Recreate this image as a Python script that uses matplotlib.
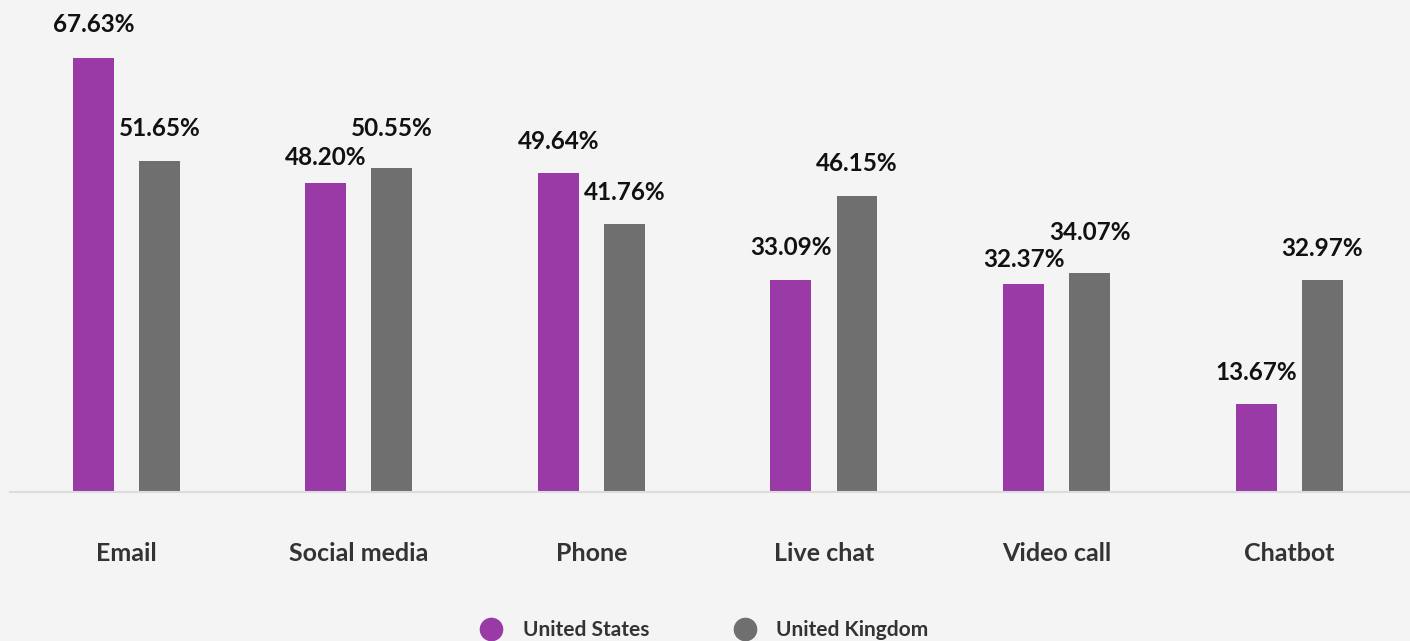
import matplotlib.pyplot as plt
from matplotlib.lines import Line2D
import numpy as np

plt.rcParams['font.family'] = ['Lato', 'DejaVu Sans']

categories = ['Email', 'Social media', 'Phone', 'Live chat', 'Video call', 'Chatbot']
us_values = [67.63, 48.20, 49.64, 33.09, 32.37, 13.67]
uk_values = [51.65, 50.55, 41.76, 46.15, 34.07, 32.97]

purple = '#993aa6'
grey = '#6f6f6f'
bg = '#f4f4f4'

fig = plt.figure(figsize=(14.1, 6.41), dpi=100, facecolor=bg)
ax = fig.add_axes([10 / 1410, 149 / 641, 1400 / 1410, 492 / 641])
ax.set_facecolor(bg)

x = np.arange(len(categories))
w = 0.176
off = 0.142
us_bars = ax.bar(x - off, us_values, w, color=purple, zorder=2)
uk_bars = ax.bar(x + off, uk_values, w, color=grey, zorder=2)

ax.set_xlim(-0.5, 5.52)
ax.set_ylim(0, 76.67)

# value labels, a few nudged so neighbours don't collide
us_shift = {0: 2, 1: -7, 4: -7}
uk_shift = {1: 7, 4: 9}
for bars, vals, shift in [(us_bars, us_values, us_shift), (uk_bars, uk_values, uk_shift)]:
    for i, (b, v) in enumerate(zip(bars, vals)):
        ax.annotate(f'{v:.2f}%', (b.get_x() + b.get_width() / 2, v),
                    xytext=(0, 32 + shift.get(i, 0)), textcoords='offset pixels',
                    ha='center', va='center', fontsize=17.5, fontweight='bold',
                    color='#111111')

for s in ['top', 'right', 'left']:
    ax.spines[s].set_visible(False)
ax.spines['bottom'].set_color('#dcdcdc')
ax.spines['bottom'].set_linewidth(1.5)
ax.set_yticks([])
ax.set_xticks(x)
ax.set_xticklabels(categories, fontsize=18, fontweight='bold', color='#333333')
ax.tick_params(axis='x', length=0, pad=36)

handles = [Line2D([], [], marker='o', linestyle='', markersize=16, color=purple),
           Line2D([], [], marker='o', linestyle='', markersize=16, color=grey)]
fig.legend(handles, ['United States', 'United Kingdom'], loc='center',
           bbox_to_anchor=(0.496, 0.017), ncol=2, frameon=False,
           prop={'size': 15, 'weight': 'bold'}, labelcolor='#333333',
           handletextpad=0.5, columnspacing=3.6)

fig.savefig('out.png', dpi=100, facecolor=bg)
